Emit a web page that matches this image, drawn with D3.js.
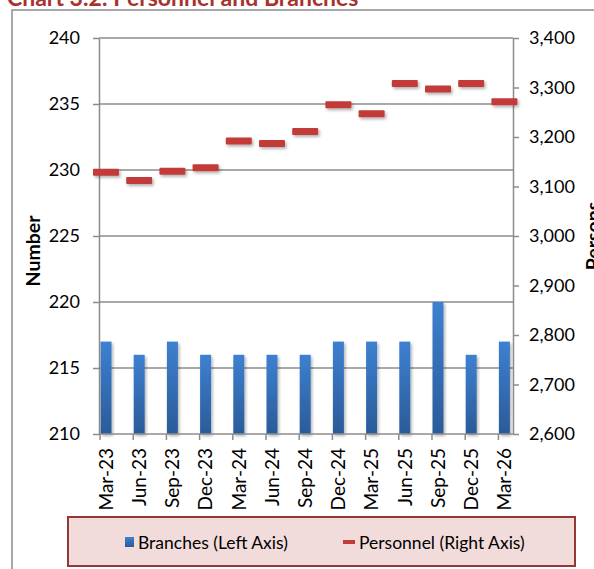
<!DOCTYPE html>
<html>
<head>
<meta charset="utf-8">
<script src="https://cdn.jsdelivr.net/npm/d3@7"></script>
<style>
  body { margin:0; background:#fff; }
  text { font-family: Lato, "Open Sans", sans-serif; }
</style>
</head>
<body>
<div id="chart"></div>
<script>
// quarters on the category axis
var quarters = ["Mar-23","Jun-23","Sep-23","Dec-23","Mar-24","Jun-24","Sep-24","Dec-24","Mar-25","Jun-25","Sep-25","Dec-25","Mar-26"];
// branches (left axis)
var branches = [217,216,217,216,216,216,216,217,217,217,220,216,217];
// personnel (right axis)
var personnel = [3129,3112,3131,3138,3192,3187,3211,3265,3247,3308,3297,3308,3271];
var leftTicks = [210,215,220,225,230,235,240];
var rightTicks = [2600,2700,2800,2900,3000,3100,3200,3300,3400];

var W = 594, H = 569;
var plot = {left:99, right:513, top:38, bottom:434};

var svg = d3.select("#chart").append("svg")
  .attr("width", W).attr("height", H);

var defs = svg.append("defs");
var grad = defs.append("linearGradient").attr("id","barGrad")
  .attr("x1",0).attr("y1",0).attr("x2",0).attr("y2",1);
grad.append("stop").attr("offset","0%").attr("stop-color","#3d80d1");
grad.append("stop").attr("offset","100%").attr("stop-color","#2b5b98");
var shadow = defs.append("filter").attr("id","shadow")
  .attr("x","-20%").attr("y","-50%").attr("width","150%").attr("height","250%");
shadow.append("feDropShadow").attr("dx",1.5).attr("dy",2).attr("stdDeviation",1.5)
  .attr("flood-color","#000").attr("flood-opacity",0.3);

// title (partly cut off at top in the original)
svg.append("text")
  .attr("x", 7).attr("y", 6)
  .attr("fill", "#a8322f")
  .attr("font-size", 23).attr("font-weight", "bold")
  .text("Chart 3.2: Personnel and Branches");

// outer frame
svg.append("path")
  .attr("d", "M12," + (H+2) + "V10H" + (W+2))
  .attr("fill","none").attr("stroke","#8c8c8c").attr("stroke-width",1.5);

var x = d3.scaleBand().domain(quarters).range([100, 100 + 33.2*13]).padding(0);
var yL = d3.scaleLinear().domain([210,240]).range([plot.bottom, plot.top]);
var yR = d3.scaleLinear().domain([2600,3400]).range([plot.bottom, plot.top]);

// gridlines
svg.append("g").selectAll("line").data(leftTicks.slice(1)).enter().append("line")
  .attr("x1", plot.left).attr("x2", plot.right)
  .attr("y1", d => yL(d)).attr("y2", d => yL(d))
  .attr("stroke","#8c8c8c").attr("stroke-width",1.5);

// bars
svg.append("g").selectAll("rect").data(quarters).enter().append("rect")
  .attr("x", d => x(d) + 0.5)
  .attr("width", 11)
  .attr("y", (d,i) => yL(branches[i]))
  .attr("height", (d,i) => plot.bottom - yL(branches[i]))
  .attr("fill","url(#barGrad)")
  .attr("filter","url(#shadow)");

// axes
var axisStyle = function(g){
  g.select(".domain").attr("stroke","#8c8c8c").attr("stroke-width",1.5);
  g.selectAll(".tick line").attr("stroke","#8c8c8c").attr("stroke-width",1.5);
  g.selectAll(".tick text").attr("fill","#000").attr("font-size",18)
    .attr("font-family","Lato, sans-serif");
};

svg.append("g").attr("transform","translate(" + plot.left + ",0)")
  .call(d3.axisLeft(yL).tickValues(leftTicks).tickSize(6).tickPadding(13).tickSizeOuter(0))
  .call(axisStyle);

svg.append("g").attr("transform","translate(" + plot.right + ",0)")
  .call(d3.axisRight(yR).tickValues(rightTicks).tickSize(6).tickPadding(10).tickSizeOuter(0)
    .tickFormat(d3.format(",")))
  .call(axisStyle);

var xg = svg.append("g").attr("transform","translate(0," + plot.bottom + ")");
xg.append("line").attr("x1", plot.left).attr("x2", plot.right)
  .attr("stroke","#8c8c8c").attr("stroke-width",1.5);
xg.selectAll("line.tk").data(quarters).enter().append("line").attr("class","tk")
  .attr("x1", d => x(d)).attr("x2", d => x(d))
  .attr("y1", 0).attr("y2", 6)
  .attr("stroke","#8c8c8c").attr("stroke-width",1.5);
xg.selectAll("text").data(quarters).enter().append("text")
  .attr("transform", d => "translate(" + (x(d) + 6) + ",14) rotate(-90)")
  .attr("text-anchor","end").attr("dy","0.36em")
  .attr("font-size",19).attr("fill","#000")
  .text(d => d);

// personnel markers
svg.append("g").selectAll("rect").data(quarters).enter().append("rect")
  .attr("x", d => x(d) + 6 - 13)
  .attr("width", 26)
  .attr("y", (d,i) => yR(personnel[i]) - 3.5)
  .attr("height", 7)
  .attr("rx", 1)
  .attr("fill","#c23b38")
  .attr("filter","url(#shadow)");

// axis titles
svg.append("text")
  .attr("transform","translate(40,251) rotate(-90)")
  .attr("text-anchor","middle")
  .attr("font-size",19.5).attr("font-weight","bold")
  .text("Number");
svg.append("text")
  .attr("transform","translate(600,236) rotate(-90)")
  .attr("text-anchor","middle")
  .attr("font-size",19.5).attr("font-weight","bold")
  .text("Persons");

// legend
var lg = svg.append("g");
lg.append("rect")
  .attr("x", 68).attr("y", 517).attr("width", 507).attr("height", 49)
  .attr("fill","#f2dcdb").attr("stroke","#953735").attr("stroke-width",2);
lg.append("rect").attr("x",125).attr("y",537).attr("width",9).attr("height",10)
  .attr("fill","url(#barGrad)");
lg.append("text").attr("x",138).attr("y",543).attr("dy","0.35em")
  .attr("font-size",17.5).text("Branches (Left Axis)");
lg.append("rect").attr("x",343).attr("y",540).attr("width",12).attr("height",4)
  .attr("fill","#c23b38");
lg.append("text").attr("x",359).attr("y",543).attr("dy","0.35em")
  .attr("font-size",17.5).text("Personnel (Right Axis)");
</script>
</body>
</html>
